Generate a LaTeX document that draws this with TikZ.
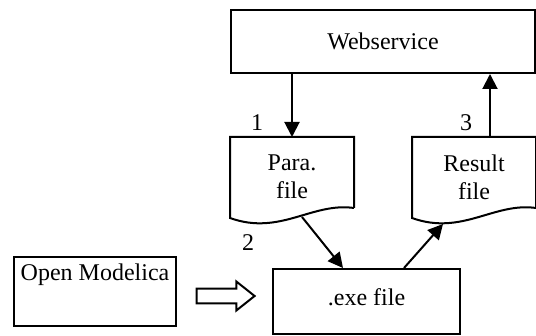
\documentclass[tikz,border=0pt]{standalone}
\usepackage{fontspec}
\setmainfont{Liberation Serif}
\usetikzlibrary{arrows.meta, positioning, shapes.arrows, calc}
\tikzset{
  every picture/.style={font=\fontsize{12}{13.8}\selectfont, line width=1pt},
  box/.style={draw, inner sep=0pt, align=center},
  docnode/.style={inner sep=0pt, align=center, minimum width=61pt, minimum height=39pt},
  arrow/.style={-{Triangle[length=7.5pt, width=7.5pt]}, line width=1pt},
  num/.style={inner sep=0pt},
}

\begin{document}
\begin{tikzpicture}[x=0.5pt, y=-0.5pt,
  hollow/.style={single arrow, draw, inner sep=0pt, text height=6.3pt, text depth=0pt,
    single arrow head extend=3.6pt, single arrow tip angle=77, minimum height=29pt}]
  \useasboundingbox (0,0) rectangle (536,336);
  \node[box, minimum width=152pt, minimum height=31.5pt] (ws) at (383,41.5) {Webservice};
  \node[docnode] (para) at (292,177) {Para.\\file};
  \node[docnode] (res) at (474,177) {Result\\file};
  \node[box, minimum width=93.5pt, minimum height=32.5pt, text depth=4pt] (exe) at (366.5,301.5) {.exe file};
  \node[box, minimum width=81pt, text height=12pt, text depth=22.5pt] (om) at (95,291.5) {Open Modelica};
  \node[hollow] (conv) at (221,296) {};
  % document outlines with wavy bottom
  \foreach \d in {para,res}
    \draw ($(\d.south east)+(0,-9)$) -- (\d.north east) -- (\d.north west) -- ($(\d.south west)+(0,1)$)
      .. controls +(50,18) and +(-42,-6) .. ($(\d.south east)+(0,-9)$);
  \draw[arrow] (ws.south -| para) -- (para.north);
  \draw[arrow] ([xshift=8pt]res.north) -- ([xshift=8pt]res.north |- ws.south);
  \draw[arrow] ([xshift=5pt]para.south) -- ([xshift=-11.75pt]exe.north);
  \draw[arrow] ([xshift=18.75pt]exe.north) -- ([xshift=-15.5pt,yshift=-3.5pt]res.south);
  \node[num] (n1) at (257,123) {1};
  \node[num] (n2) at (248,243) {2};
  \node[num] (n3) at (466,123) {3};
\end{tikzpicture}
\end{document}
